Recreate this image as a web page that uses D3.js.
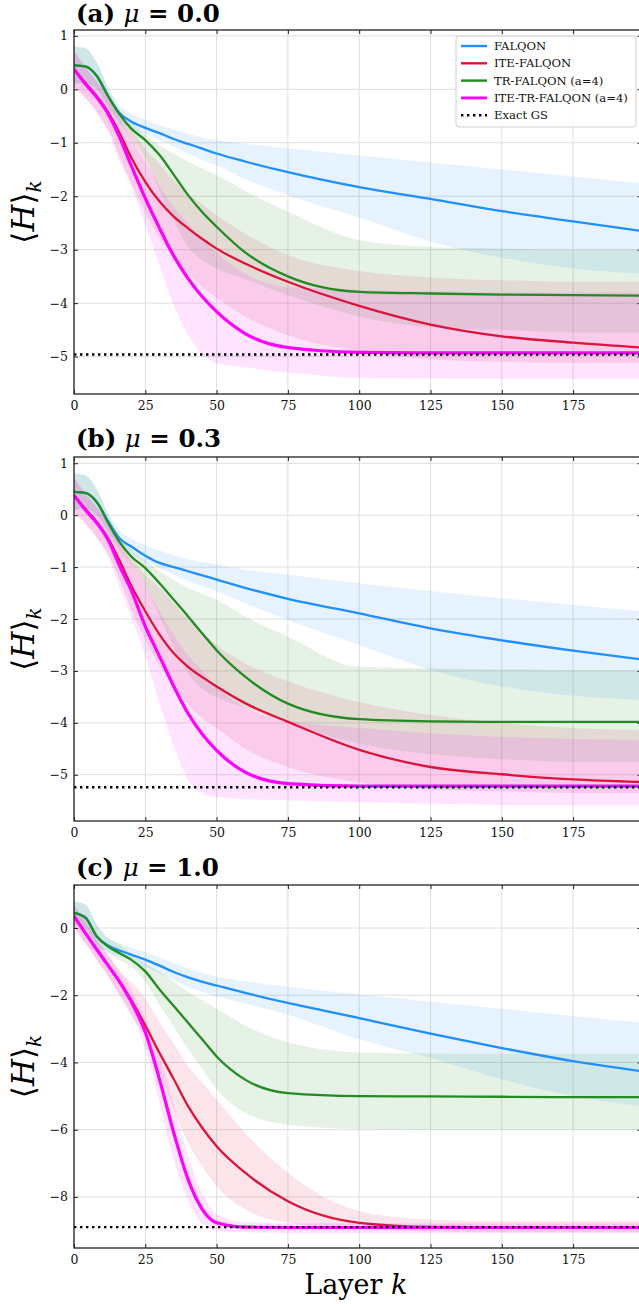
<!DOCTYPE html>
<html>
<head>
<meta charset="utf-8">
<script src="https://cdn.jsdelivr.net/npm/d3@7"></script>
<style>
  body { margin: 0; background: #fff; }
  svg { display: block; }
</style>
</head>
<body>
<div id="chart"></div>
<script>
const layers = [0, 4, 8, 12, 16, 20, 25, 30, 35, 40, 45, 50, 60, 75, 100, 125, 150, 175, 199];

const xTicks = [0, 25, 50, 75, 100, 125, 150, 175];
const yTicksA = [1, 0, -1, -2, -3, -4, -5];
const yTicksB = [1, 0, -1, -2, -3, -4, -5];
const yTicksC = [0, -2, -4, -6, -8];

const methods = ["FALQON", "ITE-FALQON", "TR-FALQON (a=4)", "ITE-TR-FALQON (a=4)"];
const titles = ["(a) ", "(b) ", "(c) "];
const muValues = ["0.0", "0.3", "1.0"];
const exactGS = [-4.96, -5.24, -8.9];

// (a) mu = 0.0
const falqonA    = [0.45, 0.43, 0.25, -0.13, -0.45, -0.6, -0.72, -0.82, -0.93, -1.02, -1.11, -1.2, -1.35, -1.55, -1.83, -2.05, -2.28, -2.47, -2.65];
const falqonA_hi = [0.8, 0.77, 0.5, 0.05, -0.3, -0.45, -0.57, -0.67, -0.75, -0.83, -0.9, -0.95, -1.02, -1.1, -1.24, -1.37, -1.5, -1.63, -1.76];
const falqonA_lo = [0.1, 0.12, 0.0, -0.3, -0.6, -0.73, -0.85, -0.95, -1.07, -1.2, -1.32, -1.42, -1.68, -1.98, -2.4, -2.85, -3.15, -3.35, -3.45];
const iteA       = [0.38, 0.12, -0.13, -0.43, -0.82, -1.27, -1.73, -2.1, -2.38, -2.6, -2.8, -2.98, -3.26, -3.6, -4.05, -4.4, -4.62, -4.74, -4.83];
const iteA_hi    = [0.72, 0.42, 0.15, -0.12, -0.45, -0.75, -1.1, -1.4, -1.7, -1.95, -2.15, -2.35, -2.7, -3.1, -3.4, -3.52, -3.57, -3.6, -3.6];
const iteA_lo    = [0.05, -0.15, -0.42, -0.75, -1.25, -1.75, -2.3, -2.8, -3.15, -3.45, -3.7, -3.9, -4.25, -4.6, -4.9, -5.05, -5.1, -5.12, -5.12];
const trA        = [0.45, 0.43, 0.25, -0.13, -0.47, -0.73, -0.95, -1.23, -1.6, -1.98, -2.3, -2.57, -3.05, -3.5, -3.79, -3.82, -3.84, -3.85, -3.86];
const trA_hi     = [0.8, 0.77, 0.5, 0.0, -0.38, -0.6, -0.85, -1.05, -1.2, -1.35, -1.48, -1.6, -1.9, -2.29, -2.82, -2.95, -2.98, -3.0, -3.0];
const trA_lo     = [0.1, 0.12, 0.0, -0.35, -0.65, -0.9, -1.3, -1.9, -2.45, -2.95, -3.2, -3.35, -3.55, -3.85, -4.25, -4.45, -4.5, -4.55, -4.55];
const iteTrA     = [0.38, 0.1, -0.15, -0.46, -0.9, -1.42, -2.04, -2.6, -3.12, -3.54, -3.88, -4.16, -4.57, -4.83, -4.92, -4.93, -4.93, -4.93, -4.93];
const iteTrA_hi  = [0.72, 0.42, 0.15, -0.15, -0.55, -0.9, -1.35, -1.8, -2.2, -2.5, -2.8, -3.05, -3.45, -3.7, -3.75, -3.78, -3.8, -3.8, -3.8];
const iteTrA_lo  = [0.05, -0.18, -0.45, -0.8, -1.35, -1.8, -2.54, -3.29, -4.05, -4.6, -4.95, -5.13, -5.2, -5.3, -5.4, -5.41, -5.42, -5.42, -5.42];

// (b) mu = 0.3
const falqonB    = [0.45, 0.43, 0.25, -0.12, -0.45, -0.6, -0.78, -0.92, -1.0, -1.08, -1.16, -1.24, -1.4, -1.61, -1.89, -2.18, -2.41, -2.61, -2.78];
const falqonB_hi = [0.8, 0.77, 0.5, 0.05, -0.3, -0.45, -0.58, -0.68, -0.77, -0.85, -0.9, -0.95, -1.05, -1.15, -1.31, -1.46, -1.6, -1.73, -1.85];
const falqonB_lo = [0.1, 0.12, 0.0, -0.3, -0.6, -0.75, -0.9, -1.02, -1.15, -1.27, -1.37, -1.46, -1.7, -2.02, -2.5, -2.98, -3.3, -3.48, -3.56];
const iteB       = [0.38, 0.12, -0.13, -0.45, -0.88, -1.35, -1.85, -2.3, -2.66, -2.92, -3.12, -3.3, -3.62, -3.98, -4.52, -4.85, -4.99, -5.09, -5.14];
const iteB_hi    = [0.72, 0.42, 0.15, -0.12, -0.45, -0.8, -1.15, -1.4, -1.7, -2.0, -2.25, -2.5, -2.85, -3.2, -3.6, -3.85, -4.0, -4.1, -4.14];
const iteB_lo    = [0.05, -0.15, -0.42, -0.75, -1.25, -1.8, -2.4, -2.9, -3.3, -3.65, -3.9, -4.1, -4.5, -4.85, -5.15, -5.28, -5.32, -5.35, -5.35];
const trB        = [0.45, 0.43, 0.25, -0.15, -0.52, -0.79, -1.02, -1.31, -1.63, -1.95, -2.28, -2.6, -3.11, -3.63, -3.93, -3.97, -3.98, -3.98, -3.98];
const trB_hi     = [0.8, 0.77, 0.5, 0.0, -0.4, -0.65, -0.88, -1.08, -1.25, -1.4, -1.52, -1.63, -1.95, -2.34, -2.92, -2.95, -2.97, -2.98, -2.98];
const trB_lo     = [0.1, 0.12, 0.0, -0.35, -0.7, -0.95, -1.35, -1.95, -2.55, -3.05, -3.35, -3.5, -3.7, -4.0, -4.4, -4.6, -4.7, -4.75, -4.75];
const iteTrB     = [0.38, 0.1, -0.15, -0.48, -0.98, -1.44, -2.14, -2.72, -3.3, -3.82, -4.22, -4.53, -4.95, -5.17, -5.22, -5.22, -5.22, -5.22, -5.22];
const iteTrB_hi  = [0.72, 0.42, 0.15, -0.15, -0.55, -0.9, -1.35, -1.85, -2.3, -2.7, -3.0, -3.3, -3.7, -3.95, -4.1, -4.2, -4.27, -4.31, -4.33];
const iteTrB_lo  = [0.05, -0.18, -0.45, -0.8, -1.4, -1.95, -2.72, -3.63, -4.45, -5.1, -5.35, -5.43, -5.47, -5.49, -5.53, -5.56, -5.58, -5.59, -5.59];

// (c) mu = 1.0
const falqonC    = [0.45, 0.32, -0.25, -0.52, -0.67, -0.79, -0.94, -1.12, -1.31, -1.47, -1.6, -1.71, -1.93, -2.23, -2.68, -3.14, -3.57, -3.96, -4.26];
const falqonC_hi = [0.8, 0.7, 0.1, -0.3, -0.45, -0.58, -0.72, -0.88, -1.05, -1.2, -1.33, -1.44, -1.58, -1.75, -1.98, -2.19, -2.4, -2.62, -2.82];
const falqonC_lo = [0.1, 0.0, -0.5, -0.7, -0.85, -0.95, -1.15, -1.35, -1.55, -1.75, -1.9, -2.03, -2.25, -2.58, -3.32, -3.87, -4.5, -5.0, -5.3];
const iteC       = [0.35, -0.15, -0.64, -1.12, -1.6, -2.13, -2.9, -3.72, -4.5, -5.3, -5.95, -6.49, -7.28, -8.13, -8.77, -8.89, -8.9, -8.9, -8.9];
const iteC_hi    = [0.7, 0.2, -0.35, -0.8, -1.25, -1.6, -2.1, -2.8, -3.45, -4.11, -4.6, -5.1, -6.1, -7.28, -8.42, -8.67, -8.72, -8.72, -8.72];
const iteC_lo    = [0.0, -0.45, -0.95, -1.45, -2.0, -2.6, -3.22, -4.31, -5.4, -6.39, -7.1, -7.68, -8.37, -8.77, -8.95, -9.02, -9.05, -9.05, -9.05];
const trC        = [0.45, 0.3, -0.25, -0.55, -0.75, -0.94, -1.29, -1.83, -2.32, -2.82, -3.32, -3.82, -4.51, -4.91, -5.0, -5.01, -5.02, -5.03, -5.03];
const trC_hi     = [0.8, 0.7, 0.1, -0.3, -0.5, -0.75, -1.05, -1.3, -1.6, -1.9, -2.15, -2.4, -2.9, -3.4, -3.7, -3.73, -3.74, -3.74, -3.74];
const trC_lo     = [0.1, 0.0, -0.5, -0.75, -0.95, -1.15, -1.6, -2.3, -2.95, -3.6, -4.2, -4.8, -5.5, -5.85, -5.98, -6.0, -6.0, -6.0, -6.0];
const iteTrC     = [0.35, -0.15, -0.64, -1.12, -1.6, -2.18, -3.1, -4.51, -6.1, -7.48, -8.37, -8.77, -8.9, -8.91, -8.91, -8.91, -8.91, -8.91, -8.91];
const iteTrC_hi  = [0.7, 0.2, -0.35, -0.8, -1.3, -1.8, -2.7, -3.8, -5.3, -6.8, -7.9, -8.5, -8.75, -8.78, -8.78, -8.78, -8.78, -8.78, -8.78];
const iteTrC_lo  = [0.0, -0.45, -0.95, -1.45, -2.0, -2.55, -3.6, -5.2, -6.9, -8.1, -8.8, -9.0, -9.05, -9.07, -9.07, -9.07, -9.07, -9.07, -9.07];

const colors = ["#1e90ff", "#dc143c", "#228b22", "#ff00ff"];
const lineWidths = [2.3, 2.3, 2.3, 3.2];

const width = 639;
const height = 1304;
const left = 74;
const pxPer25 = 71.3;

const panels = [
    { top: 30, bottom: 394, ylim: [-5.7, 1.11], yTicks: yTicksA, titleY: 22,
      mean: [falqonA, iteA, trA, iteTrA], lo: [falqonA_lo, iteA_lo, trA_lo, iteTrA_lo], hi: [falqonA_hi, iteA_hi, trA_hi, iteTrA_hi] },
    { top: 457, bottom: 821, ylim: [-5.89, 1.12], yTicks: yTicksB, titleY: 447,
      mean: [falqonB, iteB, trB, iteTrB], lo: [falqonB_lo, iteB_lo, trB_lo, iteTrB_lo], hi: [falqonB_hi, iteB_hi, trB_hi, iteTrB_hi] },
    { top: 885, bottom: 1248, ylim: [-9.52, 1.28], yTicks: yTicksC, titleY: 876,
      mean: [falqonC, iteC, trC, iteTrC], lo: [falqonC_lo, iteC_lo, trC_lo, iteTrC_lo], hi: [falqonC_hi, iteC_hi, trC_hi, iteTrC_hi] }
];

const svg = d3.select("#chart").append("svg")
    .attr("width", width)
    .attr("height", height)
    .style("font-family", "'DejaVu Serif', serif");

const x = d3.scaleLinear().domain([0, 199]).range([left, left + 199 * pxPer25 / 25]);
const right = x(199);

panels.forEach((p, i) => {
    const y = d3.scaleLinear().domain(p.ylim).range([p.bottom, p.top]);
    const g = svg.append("g");

    g.append("clipPath").attr("id", "clip" + i)
        .append("rect")
        .attr("x", left).attr("y", p.top)
        .attr("width", right - left).attr("height", p.bottom - p.top);

    // grid
    const grid = g.append("g").attr("stroke", "#dedede").attr("stroke-width", 1);
    grid.selectAll(".gx").data(xTicks).join("line")
        .attr("x1", d => x(d)).attr("x2", d => x(d))
        .attr("y1", p.top).attr("y2", p.bottom);
    grid.selectAll(".gy").data(p.yTicks).join("line")
        .attr("x1", left).attr("x2", right)
        .attr("y1", d => y(d)).attr("y2", d => y(d));

    const plot = g.append("g").attr("clip-path", `url(#clip${i})`);

    const area = d3.area()
        .x(d => x(d.k)).y0(d => y(d.lo)).y1(d => y(d.hi))
        .curve(d3.curveMonotoneX);
    const line = d3.line()
        .x(d => x(d.k)).y(d => y(d.v))
        .curve(d3.curveMonotoneX);

    methods.forEach((m, j) => {
        const rows = layers.map((k, n) => ({ k: k, lo: p.lo[j][n], hi: p.hi[j][n] }));
        plot.append("path")
            .attr("d", area(rows))
            .attr("fill", colors[j])
            .attr("fill-opacity", 0.11);
    });
    methods.forEach((m, j) => {
        const rows = layers.map((k, n) => ({ k: k, v: p.mean[j][n] }));
        plot.append("path")
            .attr("d", line(rows))
            .attr("fill", "none")
            .attr("stroke", colors[j])
            .attr("stroke-width", lineWidths[j]);
    });

    plot.append("line")
        .attr("x1", x(0)).attr("x2", x(199))
        .attr("y1", y(exactGS[i])).attr("y2", y(exactGS[i]))
        .attr("stroke", "#000")
        .attr("stroke-width", 2.4)
        .attr("stroke-dasharray", "2.4,3.6");

    // axes, ticks pointing inward
    g.append("g").attr("transform", `translate(0,${p.bottom})`)
        .call(d3.axisBottom(x).tickValues(xTicks).tickSize(-4).tickPadding(7));
    g.append("g").attr("transform", `translate(${left},0)`)
        .call(d3.axisLeft(y).tickValues(p.yTicks).tickSize(-4).tickPadding(6)
            .tickFormat(d => d < 0 ? "\u2212" + Math.abs(d) : d));
    g.append("g").attr("transform", `translate(0,${p.top})`)
        .call(d3.axisTop(x).tickValues(xTicks).tickSize(-4).tickFormat(""));
    g.append("g").attr("transform", `translate(${right},0)`)
        .call(d3.axisRight(y).tickValues(p.yTicks).tickSize(-4).tickFormat(""));
    g.selectAll(".domain").remove();
    g.selectAll(".tick line").attr("stroke", "#222");
    g.selectAll(".tick text")
        .attr("font-family", "'DejaVu Serif', serif")
        .attr("font-size", 12.5)
        .attr("fill", "#111");

    g.append("rect")
        .attr("x", left).attr("y", p.top)
        .attr("width", right - left).attr("height", p.bottom - p.top)
        .attr("fill", "none").attr("stroke", "#222").attr("stroke-width", 1.3);

    // title
    const t = g.append("text")
        .attr("x", left + 2).attr("y", p.titleY)
        .attr("font-family", "'DejaVu Serif', serif")
        .attr("font-size", 24.5).attr("fill", "#000");
    t.append("tspan").attr("font-weight", "bold").text(titles[i]);
    t.append("tspan").attr("font-style", "italic").text("\u03bc");
    t.append("tspan").attr("font-weight", "bold").text(" = " + muValues[i]);

    // y label
    const ly = g.append("text")
        .attr("transform", `translate(34,${(p.top + p.bottom) / 2}) rotate(-90)`)
        .attr("text-anchor", "middle")
        .attr("font-family", "'DejaVu Serif', serif")
        .attr("font-size", 31);
    ly.append("tspan").text("\u27e8");
    ly.append("tspan").attr("font-style", "italic").text("H");
    ly.append("tspan").text("\u27e9");
    ly.append("tspan").attr("font-style", "italic").attr("font-size", 20).attr("dy", 7).text("k");
});

// x label
const xl = svg.append("text")
    .attr("x", (left + right) / 2 - 2).attr("y", 1294)
    .attr("text-anchor", "middle")
    .attr("font-size", 27);
xl.append("tspan").text("Layer ");
xl.append("tspan").attr("font-style", "italic").text("k");

// legend
const legend = svg.append("g").attr("transform", "translate(456,36)");
legend.append("rect")
    .attr("width", 180).attr("height", 91).attr("rx", 3)
    .attr("fill", "#fff").attr("fill-opacity", 0.8)
    .attr("stroke", "#d0d0d0").attr("stroke-width", 1);
const legendItems = methods.map((m, j) => ({ name: m, color: colors[j], w: lineWidths[j], dash: null }))
    .concat([{ name: "Exact GS", color: "#000", w: 2.4, dash: "2.4,3.6" }]);
legendItems.forEach((d, j) => {
    const row = legend.append("g").attr("transform", `translate(0,${10 + j * 17.3})`);
    row.append("line")
        .attr("x1", 5).attr("x2", 31)
        .attr("stroke", d.color).attr("stroke-width", d.w === 3.2 ? 2.8 : 2.4)
        .attr("stroke-dasharray", d.dash);
    row.append("text")
        .attr("x", 38).attr("y", 4)
        .attr("font-size", 11.6)
        .attr("fill", "#111")
        .text(d.name);
});
</script>
</body>
</html>
